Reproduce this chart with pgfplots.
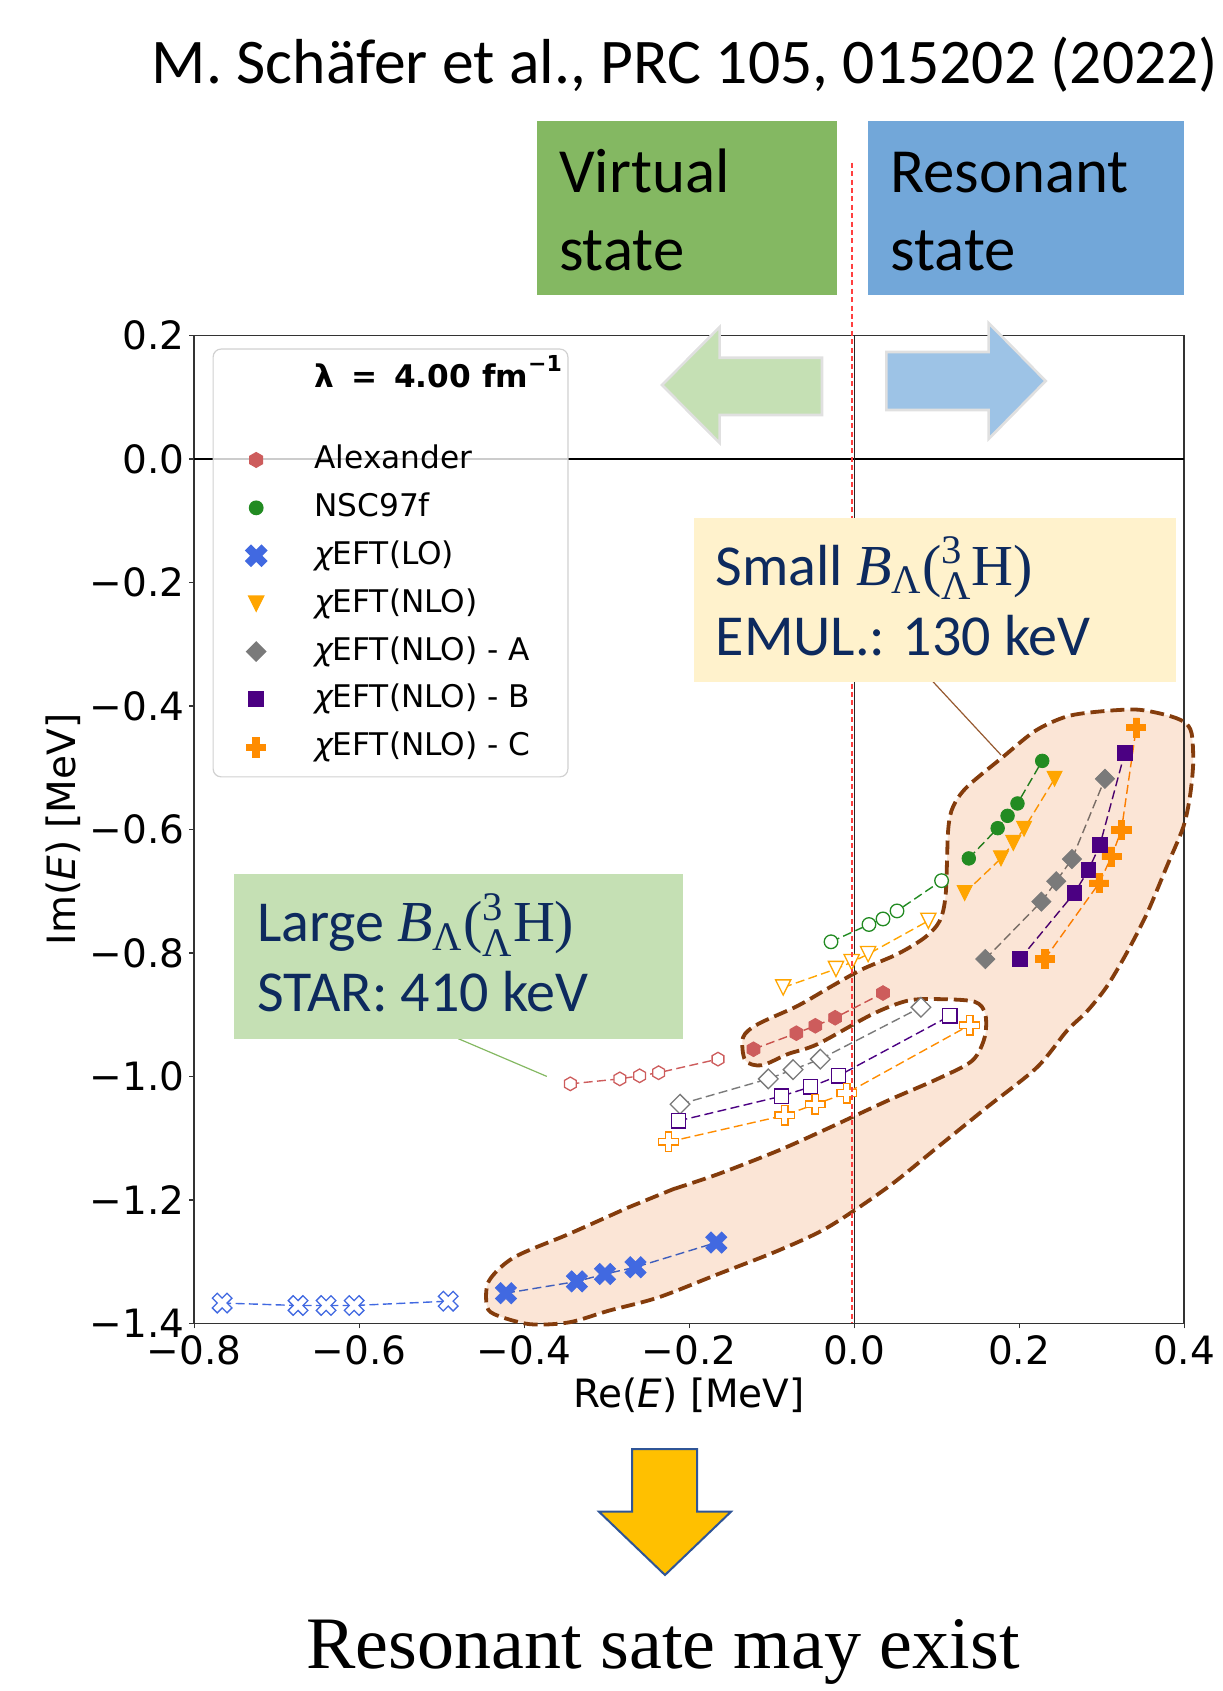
\RequirePackage{fix-cm}
\documentclass[border=0pt]{standalone}
\usepackage[no-math]{fontspec}
\usepackage{amsmath}
\usepackage{pgfplots}
\usepackage{pgfplotstable}
\pgfplotsset{compat=1.18}
\setmainfont{Carlito}
\newfontfamily\dvs{DejaVu Sans}
\newfontfamily\tnr{Liberation Serif}

% series colours
\definecolor{cAlex}{HTML}{CD5C5C}
\definecolor{cNSC}{HTML}{228B22}
\definecolor{cLO}{HTML}{4169E1}
\definecolor{cNLO}{HTML}{FFA500}
\definecolor{cA}{HTML}{7A7A7A}
\definecolor{cB}{HTML}{4B0082}
\definecolor{cC}{HTML}{FF8C00}
% annotation colours
\definecolor{peach}{HTML}{FBE5D6}
\definecolor{outl}{HTML}{843C0C}
\definecolor{navy}{HTML}{0D2A5E}
\definecolor{boxgreen}{HTML}{84B862}
\definecolor{boxblue}{HTML}{72A7D9}
\definecolor{lightgreen}{HTML}{C5E0B4}
\definecolor{lightblue}{HTML}{9DC3E6}
\definecolor{lightyellow}{HTML}{FFF2CC}
\definecolor{gold}{HTML}{FFC000}
\definecolor{arrowedge}{HTML}{2F5597}

% hypertriton binding energy symbol
\newcommand{\BLH}{$\text{\tnr\itshape B}_{\text{\tnr Λ}}\text{\tnr(}{}^{\text{\tnr 3}}_{\text{\tnr Λ}}\text{\tnr H)}$}

% marker shapes
\pgfdeclareplotmark{hexa}{%
  \pgfpathmoveto{\pgfpointpolar{90}{\pgfplotmarksize}}%
  \pgfpathlineto{\pgfpointpolar{150}{\pgfplotmarksize}}%
  \pgfpathlineto{\pgfpointpolar{210}{\pgfplotmarksize}}%
  \pgfpathlineto{\pgfpointpolar{270}{\pgfplotmarksize}}%
  \pgfpathlineto{\pgfpointpolar{330}{\pgfplotmarksize}}%
  \pgfpathlineto{\pgfpointpolar{30}{\pgfplotmarksize}}%
  \pgfpathclose\pgfusepathqfillstroke}
\pgfdeclareplotmark{tridown}{%
  \pgfpathmoveto{\pgfqpoint{0pt}{-\pgfplotmarksize}}%
  \pgfpathlineto{\pgfqpoint{\pgfplotmarksize}{\pgfplotmarksize}}%
  \pgfpathlineto{\pgfqpoint{-\pgfplotmarksize}{\pgfplotmarksize}}%
  \pgfpathclose\pgfusepathqfillstroke}
\pgfdeclareplotmark{diam}{%
  \pgfpathmoveto{\pgfqpoint{0pt}{\pgfplotmarksize}}%
  \pgfpathlineto{\pgfqpoint{\pgfplotmarksize}{0pt}}%
  \pgfpathlineto{\pgfqpoint{0pt}{-\pgfplotmarksize}}%
  \pgfpathlineto{\pgfqpoint{-\pgfplotmarksize}{0pt}}%
  \pgfpathclose\pgfusepathqfillstroke}
\pgfdeclareplotmark{plusfat}{%
  \pgfpathmoveto{\pgfqpoint{-0.3333\pgfplotmarksize}{-\pgfplotmarksize}}%
  \pgfpathlineto{\pgfqpoint{0.3333\pgfplotmarksize}{-\pgfplotmarksize}}%
  \pgfpathlineto{\pgfqpoint{0.3333\pgfplotmarksize}{-0.3333\pgfplotmarksize}}%
  \pgfpathlineto{\pgfqpoint{\pgfplotmarksize}{-0.3333\pgfplotmarksize}}%
  \pgfpathlineto{\pgfqpoint{\pgfplotmarksize}{0.3333\pgfplotmarksize}}%
  \pgfpathlineto{\pgfqpoint{0.3333\pgfplotmarksize}{0.3333\pgfplotmarksize}}%
  \pgfpathlineto{\pgfqpoint{0.3333\pgfplotmarksize}{\pgfplotmarksize}}%
  \pgfpathlineto{\pgfqpoint{-0.3333\pgfplotmarksize}{\pgfplotmarksize}}%
  \pgfpathlineto{\pgfqpoint{-0.3333\pgfplotmarksize}{0.3333\pgfplotmarksize}}%
  \pgfpathlineto{\pgfqpoint{-\pgfplotmarksize}{0.3333\pgfplotmarksize}}%
  \pgfpathlineto{\pgfqpoint{-\pgfplotmarksize}{-0.3333\pgfplotmarksize}}%
  \pgfpathlineto{\pgfqpoint{-0.3333\pgfplotmarksize}{-0.3333\pgfplotmarksize}}%
  \pgfpathclose\pgfusepathqfillstroke}
\pgfdeclareplotmark{xfat}{\pgftransformrotate{45}\pgfuseplotmark{plusfat}}

\tikzset{mk/.style={solid, sharp corners, fill opacity=1, draw opacity=1}}
\pgfplotsset{
  ser/.style={color=#1, line width=0.7pt, dash pattern=on 4.5pt off 2.2pt, forget plot},
  full/.style={mark options={mk, fill=#1, line width=0.4pt}},
  hollow/.style={mark options={mk, fill=white, line width=0.65pt}},
}

% outline of the shaded region (Re E, Im E)
\pgfplotstableread{
x y
-0.2191 -1.1825
-0.1648 -1.1582
-0.0924 -1.1204
-0.0380 -1.0880
0.0404 -1.0394
0.1008 -1.0043
0.1431 -0.9746
0.1582 -0.9368
0.1590 -0.8991
0.1460 -0.8790
0.1008 -0.8748
0.0646 -0.8775
0.0223 -0.8991
-0.0441 -0.9476
-0.0803 -0.9638
-0.1120 -0.9820
-0.1320 -0.9740
-0.1346 -0.9368
-0.1165 -0.9153
-0.0682 -0.8856
-0.0260 -0.8530
0.0103 -0.8262
0.0525 -0.8019
0.0857 -0.7750
0.1038 -0.7480
0.1110 -0.7050
0.1140 -0.6010
0.1200 -0.5630
0.1370 -0.5310
0.1810 -0.4820
0.2200 -0.4400
0.2580 -0.4170
0.2980 -0.4090
0.3430 -0.4060
0.3790 -0.4150
0.4000 -0.4260
0.4090 -0.4440
0.4110 -0.4930
0.4070 -0.5470
0.3990 -0.5960
0.3790 -0.6600
0.3550 -0.7360
0.3300 -0.8010
0.3060 -0.8550
0.2820 -0.8950
0.2580 -0.9260
0.2216 -0.9854
0.1612 -1.0498
0.1008 -1.1150
0.0404 -1.1798
-0.0320 -1.2445
-0.0924 -1.2823
-0.1648 -1.3201
-0.2372 -1.3579
-0.2976 -1.3795
-0.3459 -1.3984
-0.3942 -1.4011
-0.4365 -1.3849
-0.4455 -1.3687
-0.4425 -1.3309
-0.4123 -1.2931
-0.3459 -1.2553
-0.2735 -1.2121
}\regiondata

\begin{document}
\begin{tikzpicture}
\path[use as bounding box] (0,0) rectangle (611pt,-845.5pt);

\begin{axis}[
  at={(97.05pt,-661.7pt)}, anchor=south west,
  scale only axis, width=495pt, height=494pt,
  xmin=-0.8, xmax=0.4, ymin=-1.4, ymax=0.2,
  clip=false,
  axis line style={black!80, line width=0.7pt},
  tick pos=left, tick align=outside, major tick length=2.5pt,
  every tick/.style={black!80, line width=0.6pt},
  xtick={-0.8,-0.6,-0.4,-0.2,0,0.2,0.4},
  xticklabels={−0.8,−0.6,−0.4,−0.2,0.0,0.2,0.4},
  ytick={-1.4,-1.2,-1,-0.8,-0.6,-0.4,-0.2,0,0.2},
  yticklabels={−1.4,−1.2,−1.0,−0.8,−0.6,−0.4,−0.2,0.0,0.2},
  ticklabel style={font=\dvs\fontsize{19.5}{23}\selectfont, inner sep=0pt},
  xticklabel shift=3.6pt, yticklabel shift=2.1pt,
  xlabel={Re(\textit{E}) [MeV]}, ylabel={Im(\textit{E}) [MeV]},
  label style={font=\dvs\fontsize{19.5}{23}\selectfont},
  xlabel style={at={(axis description cs:0.5,-0.0852)}, anchor=base, inner sep=0pt},
  ylabel style={at={(axis description cs:-0.1198,0.5)}, anchor=base, inner sep=0pt},
  legend cell align=left,
  legend style={
    at={(0.0186,0.9868)}, anchor=north west,
    draw=black!18, line width=0.6pt, rounded corners=4pt,
    fill=white, fill opacity=0.8, text opacity=1,
    inner xsep=13pt, inner ysep=5pt,
    font=\dvs\fontsize{15.6}{18}\selectfont,
    row sep=4.45pt, column sep=21.8pt,
    nodes={inner sep=2pt, text height=12pt, text depth=3.5pt},
  },
]
% legend
\addlegendimage{empty legend}
\addlegendentry[text depth=20.25pt]{\makebox[\dimexpr\width-12pt\relax][l]{\bfseries λ\hspace{8.5pt}=\hspace{8.5pt}4.00 fm\raisebox{0.5em}{\fontsize{11}{11}\selectfont −1}}}
\addlegendimage{only marks, color=cAlex, mark=hexa, mark size=3.7pt, mark options={mk, fill=cAlex}}
\addlegendentry{Alexander}
\addlegendimage{only marks, color=cNSC, mark=*, mark size=3.4pt, mark options={mk, fill=cNSC}}
\addlegendentry{NSC97f}
\addlegendimage{only marks, color=cLO, mark=xfat, mark size=5.6pt, mark options={mk, fill=cLO}}
\addlegendentry{{\itshape χ}EFT(LO)}
\addlegendimage{only marks, color=cNLO, mark=tridown, mark size=3.8pt, mark options={mk, fill=cNLO}}
\addlegendentry{{\itshape χ}EFT(NLO)}
\addlegendimage{only marks, color=cA, mark=diam, mark size=4.8pt, mark options={mk, fill=cA}}
\addlegendentry{{\itshape χ}EFT(NLO) - A}
\addlegendimage{only marks, color=cB, mark=square*, mark size=3.7pt, mark options={mk, fill=cB}}
\addlegendentry{{\itshape χ}EFT(NLO) - B}
\addlegendimage{only marks, color=cC, mark=plusfat, mark size=4.8pt, mark options={mk, fill=cC}}
\addlegendentry{{\itshape χ}EFT(NLO) - C}

% zero lines
\draw[black, line width=0.6pt] (axis cs:-0.8,0) -- (axis cs:0.4,0);
\draw[black!85, line width=0.6pt] (axis cs:0,-1.4) -- (axis cs:0,0.2);

% Alexander
\addplot[ser=cAlex, mark=hexa, mark size=3.4pt, hollow] coordinates {
(-0.344,-1.012) (-0.284,-1.004) (-0.260,-0.999) (-0.237,-0.994) (-0.165,-0.972)};
\addplot[ser=cAlex, mark=hexa, mark size=3.7pt, full=cAlex] coordinates {
(-0.122,-0.956) (-0.070,-0.930) (-0.047,-0.918) (-0.023,-0.905) (0.035,-0.865)};
% NSC97f
\addplot[ser=cNSC, mark=*, mark size=3.4pt, hollow] coordinates {
(-0.028,-0.782) (0.018,-0.754) (0.035,-0.745) (0.052,-0.732) (0.106,-0.683)};
\addplot[ser=cNSC, mark=*, mark size=3.4pt, full=cNSC] coordinates {
(0.139,-0.647) (0.174,-0.598) (0.186,-0.578) (0.198,-0.558) (0.228,-0.489)};
% chiEFT(LO)
\addplot[ser=cLO, mark=xfat, mark size=5.2pt, hollow] coordinates {
(-0.766,-1.367) (-0.674,-1.371) (-0.640,-1.371) (-0.606,-1.371) (-0.492,-1.364)};
\addplot[ser=cLO, mark=xfat, mark size=5.6pt, full=cLO] coordinates {
(-0.422,-1.351) (-0.336,-1.332) (-0.302,-1.320) (-0.265,-1.309) (-0.167,-1.269)};
% chiEFT(NLO)
\addplot[ser=cNLO, mark=tridown, mark size=3.8pt, hollow] coordinates {
(-0.086,-0.856) (-0.022,-0.826) (-0.003,-0.815) (0.017,-0.802) (0.090,-0.748)};
\addplot[ser=cNLO, mark=tridown, mark size=3.8pt, full=cNLO] coordinates {
(0.134,-0.703) (0.178,-0.647) (0.193,-0.622) (0.206,-0.599) (0.243,-0.518)};
% chiEFT(NLO) - A
\addplot[ser=cA, mark=diam, mark size=4.9pt, hollow] coordinates {
(-0.211,-1.045) (-0.104,-1.004) (-0.074,-0.989) (-0.041,-0.972) (0.081,-0.888)};
\addplot[ser=cA, mark=diam, mark size=4.8pt, full=cA] coordinates {
(0.159,-0.810) (0.227,-0.717) (0.245,-0.684) (0.264,-0.648) (0.304,-0.518)};
% chiEFT(NLO) - B
\addplot[ser=cB, mark=square*, mark size=3.6pt, hollow] coordinates {
(-0.213,-1.072) (-0.088,-1.032) (-0.053,-1.017) (-0.019,-0.999) (0.116,-0.902)};
\addplot[ser=cB, mark=square*, mark size=3.7pt, full=cB] coordinates {
(0.201,-0.810) (0.267,-0.703) (0.284,-0.666) (0.298,-0.625) (0.328,-0.476)};
% chiEFT(NLO) - C
\addplot[ser=cC, mark=plusfat, mark size=4.9pt, hollow] coordinates {
(-0.225,-1.106) (-0.084,-1.063) (-0.047,-1.045) (-0.009,-1.027) (0.140,-0.917)};
\addplot[ser=cC, mark=plusfat, mark size=4.8pt, full=cC] coordinates {
(0.231,-0.810) (0.297,-0.687) (0.312,-0.644) (0.324,-0.601) (0.342,-0.435)};

% shaded region laid over the points (multiplied, so points show through tinted)
\addplot[forget plot, mark=none, draw=none, fill=peach, blend mode=multiply, smooth] table {\regiondata} -- cycle;
% dashed outline of the shaded region
\addplot[forget plot, mark=none, draw=outl, line width=1.9pt, dash pattern=on 7pt off 3pt, smooth] table {\regiondata} -- cycle;
\end{axis}

\begin{scope}[x=0.5pt, y=-0.5pt]
% threshold marker
\draw[red!75!white, line width=0.65pt, dash pattern=on 2.5pt off 1.7pt] (852,162.7) -- (852,1323.4);

% annotation boxes
\draw[outl!85, line width=0.6pt] (933,681.7) -- (1001,755);
\fill[lightyellow] (693.5,517.7) rectangle (1175.6,681.7);
\node[anchor=base west, inner sep=0, text=navy, font=\fontsize{29}{34}\selectfont] at (715.4,585)
  {Small \BLH};
\node[anchor=base west, inner sep=0, text=navy, font=\fontsize{29}{34}\selectfont] at (715.4,655)
  {EMUL.: 130 keV};

\draw[boxgreen, line width=0.6pt] (458.4,1038.7) -- (546.8,1076.4);
\fill[lightgreen] (234,873.7) rectangle (682.7,1038.7);
\node[anchor=base west, inner sep=0, text=navy, font=\fontsize{29}{34}\selectfont] at (256.7,941.7)
  {Large \BLH};
\node[anchor=base west, inner sep=0, text=navy, font=\fontsize{29}{34}\selectfont] at (256.7,1011.7)
  {STAR: 410 keV};

% state labels
\fill[boxgreen] (537,121) rectangle (837,294.5);
\node[anchor=base west, inner sep=0, font=\fontsize{31.4}{37}\selectfont] at (558.7,192) {Virtual};
\node[anchor=base west, inner sep=0, font=\fontsize{31.4}{37}\selectfont] at (558.7,270) {state};
\fill[boxblue] (867.5,121) rectangle (1184,294.5);
\node[anchor=base west, inner sep=0, font=\fontsize{31.4}{37}\selectfont] at (890,192) {Resonant};
\node[anchor=base west, inner sep=0, font=\fontsize{31.4}{37}\selectfont] at (890,270) {state};

% direction arrows
\filldraw[fill=lightgreen, draw=black!12, line width=1.3pt, line join=miter]
  (662,385) -- (719.6,327) -- (719.6,357.7) -- (822,357.7) -- (822,415) -- (719.6,415) -- (719.6,443) -- cycle;
\filldraw[fill=lightblue, draw=black!12, line width=1.3pt, line join=miter]
  (886.4,352) -- (988.6,352) -- (988.6,323) -- (1045.7,381) -- (988.6,439) -- (988.6,410) -- (886.4,410) -- cycle;

% reference
\node[anchor=base, inner sep=0, font=\fontsize{31.8}{38}\selectfont] at (685,84)
  {M. Schäfer et al., PRC 105, 015202 (2022)};

% conclusion
\filldraw[fill=gold, draw=arrowedge, line width=1pt, line join=miter]
  (632,1449) -- (697,1449) -- (697,1511.7) -- (731,1511.7) -- (665,1575) -- (599,1511.7) -- (632,1511.7) -- cycle;
\node[anchor=base, inner sep=0, font=\tnr\fontsize{37}{44}\selectfont] at (663,1668.6)
  {Resonant sate may exist};
\end{scope}
\end{tikzpicture}
\end{document}
